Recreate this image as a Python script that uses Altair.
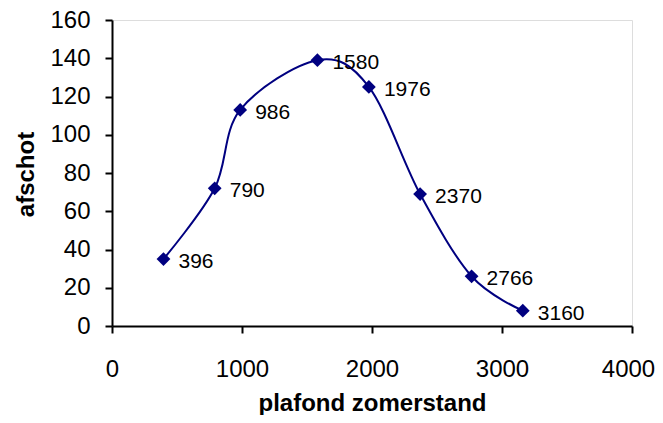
import altair as alt
import pandas as pd

plafond = [396, 790, 986, 1580, 1976, 2370, 2766, 3160]
afschot = [35, 72, 113, 139, 125, 69, 26, 8]
labels = ["396", "790", "986", "1580", "1976", "2370", "2766", "3160"]
x_ticks = [0, 1000, 2000, 3000, 4000]
y_ticks = [0, 20, 40, 60, 80, 100, 120, 140, 160]

df = pd.DataFrame({"plafond": plafond, "afschot": afschot, "label": labels})

FONT = "Liberation Sans"
NAVY = "#000080"

x = alt.X("plafond:Q",
          scale=alt.Scale(domain=[0, 4000], nice=False, zero=False),
          axis=alt.Axis(values=x_ticks, format="d", title="plafond zomerstand", grid=False,
                        domainColor="black", domainWidth=2, tickColor="black", tickWidth=2,
                        tickSize=7, labelFontSize=24, labelFont=FONT, labelColor="black",
                        labelBaseline="alphabetic", labelPadding=43, labelFlush=False,
                        labelOverlap=False,
                        labelOffset={"condition": {"test": "datum.value === 4000", "value": -4},
                                     "value": 0},
                        titleFont=FONT, titleFontSize=24, titleFontWeight="bold",
                        titleColor="black", titleBaseline="alphabetic", titleY=84,
                        zindex=1))
y = alt.Y("afschot:Q",
          scale=alt.Scale(domain=[0, 160], nice=False),
          axis=alt.Axis(values=y_ticks, format="d", title="afschot", grid=False,
                        domainColor="black", domainWidth=2, tickColor="black", tickWidth=2,
                        tickSize=7, labelFontSize=24, labelFont=FONT, labelColor="black",
                        labelPadding=15, labelFlush=False, labelOverlap=False,
                        titleFont=FONT, titleFontSize=24, titleFontWeight="bold",
                        titleColor="black", titleBaseline="alphabetic", titleX=-79, titleY=154,
                        zindex=1))

base = alt.Chart(df).encode(x=x, y=y)

line = base.mark_line(interpolate="cardinal", color=NAVY, strokeWidth=2)
points = base.mark_point(shape="diamond", filled=True, size=190, color=NAVY, opacity=1)
text = base.mark_text(align="left", baseline="middle", dx=15, dy=3, fontSize=21,
                      font=FONT, color="black").encode(text="label:N")

chart = alt.layer(line, points, text).properties(
    width=520, height=306,
    autosize=alt.AutoSizeParams(type="none"),
    padding={"left": 104, "top": 12, "right": 23, "bottom": 89},
).configure_view(stroke="#808080", strokeWidth=2).configure(background="white")

chart.save("out.html", embed_options={"renderer": "svg", "actions": False})
